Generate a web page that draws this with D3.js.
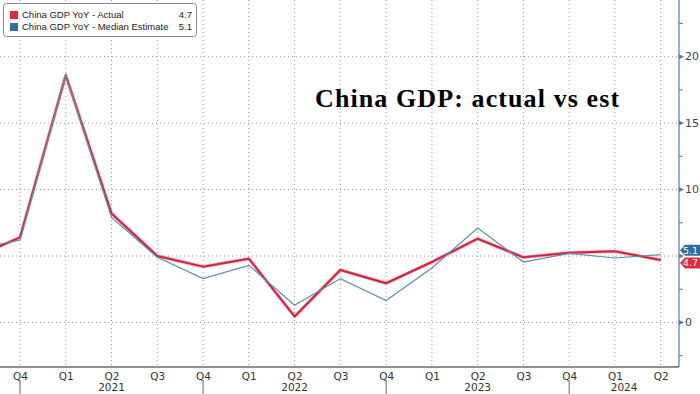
<!DOCTYPE html>
<html>
<head>
<meta charset="utf-8">
<script src="https://cdn.jsdelivr.net/npm/d3@7"></script>
<style>
  body { margin: 0; background: #fff; }
  svg { display: block; }
</style>
</head>
<body>
<div id="chart"></div>
<script>
// china gdp chart

const width = 700;
const height = 394;

// quarters, first one sits just off the left edge
const quarters = ["2020Q3", "2020Q4", "2021Q1", "2021Q2", "2021Q3", "2021Q4",
  "2022Q1", "2022Q2", "2022Q3", "2022Q4", "2023Q1", "2023Q2", "2023Q3",
  "2023Q4", "2024Q1", "2024Q2"];
const actual = [4.9, 6.4, 18.6, 8.2, 5.0, 4.2, 4.8, 0.45, 3.95, 2.95, 4.55, 6.3, 4.9, 5.25, 5.35, 4.7];
const estimate = [5.5, 6.2, 18.6, 7.9, 4.9, 3.3, 4.3, 1.3, 3.3, 1.65, 4.1, 7.1, 4.55, 5.2, 4.85, 5.1];
const years = ["2021", "2022", "2023", "2024"];
const yTicks = [0, 5, 10, 15, 20];
const yMinor = [-2.5, 2.5, 7.5, 12.5, 17.5, 22.5];

const redCol = "#d6213f";
const blueCol = "#5b8fae";

const plotRight = 679;
const plotBottom = 367;

const svg = d3.select("#chart")
  .append("svg")
  .attr("width", width)
  .attr("height", height)
  .style("font-family", "'DejaVu Sans', sans-serif");

// scales
const x = d3.scalePoint()
  .domain(quarters)
  .range([-25.76, 660.7]);

const y = d3.scaleLinear()
  .domain([-3.35, 24.26])
  .range([plotBottom, 0]);

// grid
const grid = svg.append("g");
grid.selectAll("line.v")
  .data(quarters.slice(1))
  .enter().append("line")
  .attr("x1", d => x(d)).attr("x2", d => x(d))
  .attr("y1", 0).attr("y2", plotBottom)
  .attr("stroke", "#9a9a9a")
  .attr("stroke-dasharray", "1,3");
grid.selectAll("line.h")
  .data(yTicks)
  .enter().append("line")
  .attr("x1", 0).attr("x2", plotRight)
  .attr("y1", d => y(d)).attr("y2", d => y(d))
  .attr("stroke", "#9a9a9a")
  .attr("stroke-dasharray", "1,3");

// title
svg.append("text")
  .attr("x", 315)
  .attr("y", 107)
  .style("font-family", "'Liberation Serif', 'DejaVu Serif', serif")
  .style("font-weight", "bold")
  .style("font-size", "26px")
  .style("letter-spacing", "1.1px")
  .attr("fill", "#000")
  .text("China GDP: actual vs est");

// lines
svg.append("clipPath").attr("id", "clip")
  .append("rect").attr("x", 0).attr("y", 0).attr("width", plotRight).attr("height", plotBottom);

const line = d3.line()
  .x((d, i) => x(quarters[i]))
  .y(d => y(d));

const lines = svg.append("g").attr("clip-path", "url(#clip)");
lines.append("path")
  .datum(actual)
  .attr("d", line)
  .attr("fill", "none")
  .attr("stroke", "#f3a9b8")
  .attr("stroke-width", 3.4)
  .attr("stroke-linejoin", "round");
lines.append("path")
  .datum(actual)
  .attr("d", line)
  .attr("fill", "none")
  .attr("stroke", redCol)
  .attr("stroke-width", 2)
  .attr("stroke-linejoin", "round");
lines.append("path")
  .datum(estimate)
  .attr("d", line)
  .attr("fill", "none")
  .attr("stroke", blueCol)
  .attr("stroke-width", 1.2);

// right axis
const yAxis = svg.append("g");
yAxis.append("line")
  .attr("x1", plotRight).attr("x2", plotRight)
  .attr("y1", 0).attr("y2", plotBottom)
  .attr("stroke", "#4d7fa6")
  .attr("stroke-width", 1.2);
yAxis.selectAll("path.tri")
  .data(yTicks)
  .enter().append("path")
  .attr("d", d => `M${plotRight},${y(d) - 2.5}L${plotRight + 5},${y(d)}L${plotRight},${y(d) + 2.5}Z`)
  .attr("fill", "#4d7fa6");
yAxis.selectAll("line.minor")
  .data(yMinor)
  .enter().append("line")
  .attr("x1", plotRight).attr("x2", plotRight + 4)
  .attr("y1", d => y(d)).attr("y2", d => y(d))
  .attr("stroke", "#4d7fa6");
// the 5 label sits under the last-value tags, so it is not drawn
yAxis.selectAll("text")
  .data(yTicks.filter(d => d !== 5))
  .enter().append("text")
  .attr("x", plotRight + 6)
  .attr("y", d => y(d))
  .attr("dy", "0.35em")
  .attr("fill", "#444")
  .style("font-size", "11px")
  .text(d => d);

// x axis
const xAxis = d3.axisBottom(x)
  .tickValues(quarters.slice(1))
  .tickSize(0)
  .tickPadding(6)
  .tickFormat(d => d.slice(4));
const gx = svg.append("g")
  .attr("transform", `translate(0,${plotBottom})`)
  .call(xAxis);
gx.select(".domain")
  .attr("d", `M0,0H${plotRight}`)
  .attr("stroke", "#222")
  .attr("stroke-width", 1.2);
gx.selectAll("text")
  .attr("fill", "#333")
  .style("font-family", "'DejaVu Sans', sans-serif")
  .style("font-size", "10.5px");

// year separators under the Q4 labels
const seps = quarters.filter(q => q.endsWith("Q4"));
svg.selectAll("line.sep")
  .data(seps)
  .enter().append("line")
  .attr("x1", d => x(d)).attr("x2", d => x(d))
  .attr("y1", 380).attr("y2", 394)
  .attr("stroke", "#666");

const sepX = seps.map(d => x(d)).concat([plotRight]);
svg.selectAll("text.year")
  .data(years)
  .enter().append("text")
  .attr("x", (d, i) => (sepX[i] + sepX[i + 1]) / 2)
  .attr("y", 391)
  .attr("text-anchor", "middle")
  .attr("fill", "#333")
  .style("font-size", "10.5px")
  .text(d => d);

// last value tags
function tag(yc, col, txt) {
  const g = svg.append("g");
  g.append("path")
    .attr("d", `M${plotRight + 1},${yc}L${plotRight + 6},${yc - 5.5}H700V${yc + 5.5}H${plotRight + 6}Z`)
    .attr("fill", col);
  g.append("text")
    .attr("x", 698)
    .attr("y", yc)
    .attr("dy", "0.36em")
    .attr("text-anchor", "end")
    .attr("fill", "#fff")
    .style("font-size", "9.5px")
    .text(txt);
}
tag(y(estimate[estimate.length - 1]) - 4.5, "#2f6da0", estimate[estimate.length - 1]);
tag(y(actual[actual.length - 1]) + 3, "#e2283f", actual[actual.length - 1]);

// legend
const legend = svg.append("g");
legend.append("rect")
  .attr("x", 3.5).attr("y", 3.5)
  .attr("width", 193).attr("height", 33)
  .attr("rx", 3)
  .attr("fill", "#fff")
  .attr("stroke", "#888");
const legendItems = [
  { name: "China GDP YoY - Actual", col: "#e2283f", val: actual[actual.length - 1] },
  { name: "China GDP YoY - Median Estimate", col: "#2f6da0", val: estimate[estimate.length - 1] }
];
legendItems.forEach((d, i) => {
  const yy = 15 + i * 12;
  legend.append("rect")
    .attr("x", 10).attr("y", yy - 4)
    .attr("width", 8).attr("height", 8)
    .attr("fill", d.col);
  legend.append("text")
    .attr("x", 22).attr("y", yy)
    .attr("dy", "0.35em")
    .attr("fill", "#222")
    .style("font-family", "'Liberation Sans', Arial, sans-serif")
    .style("font-size", "9.5px")
    .text(d.name);
  legend.append("text")
    .attr("x", 192).attr("y", yy)
    .attr("dy", "0.35em")
    .attr("text-anchor", "end")
    .attr("fill", "#222")
    .style("font-family", "'Liberation Sans', Arial, sans-serif")
    .style("font-size", "9.5px")
    .text(d.val);
});
</script>
</body>
</html>
